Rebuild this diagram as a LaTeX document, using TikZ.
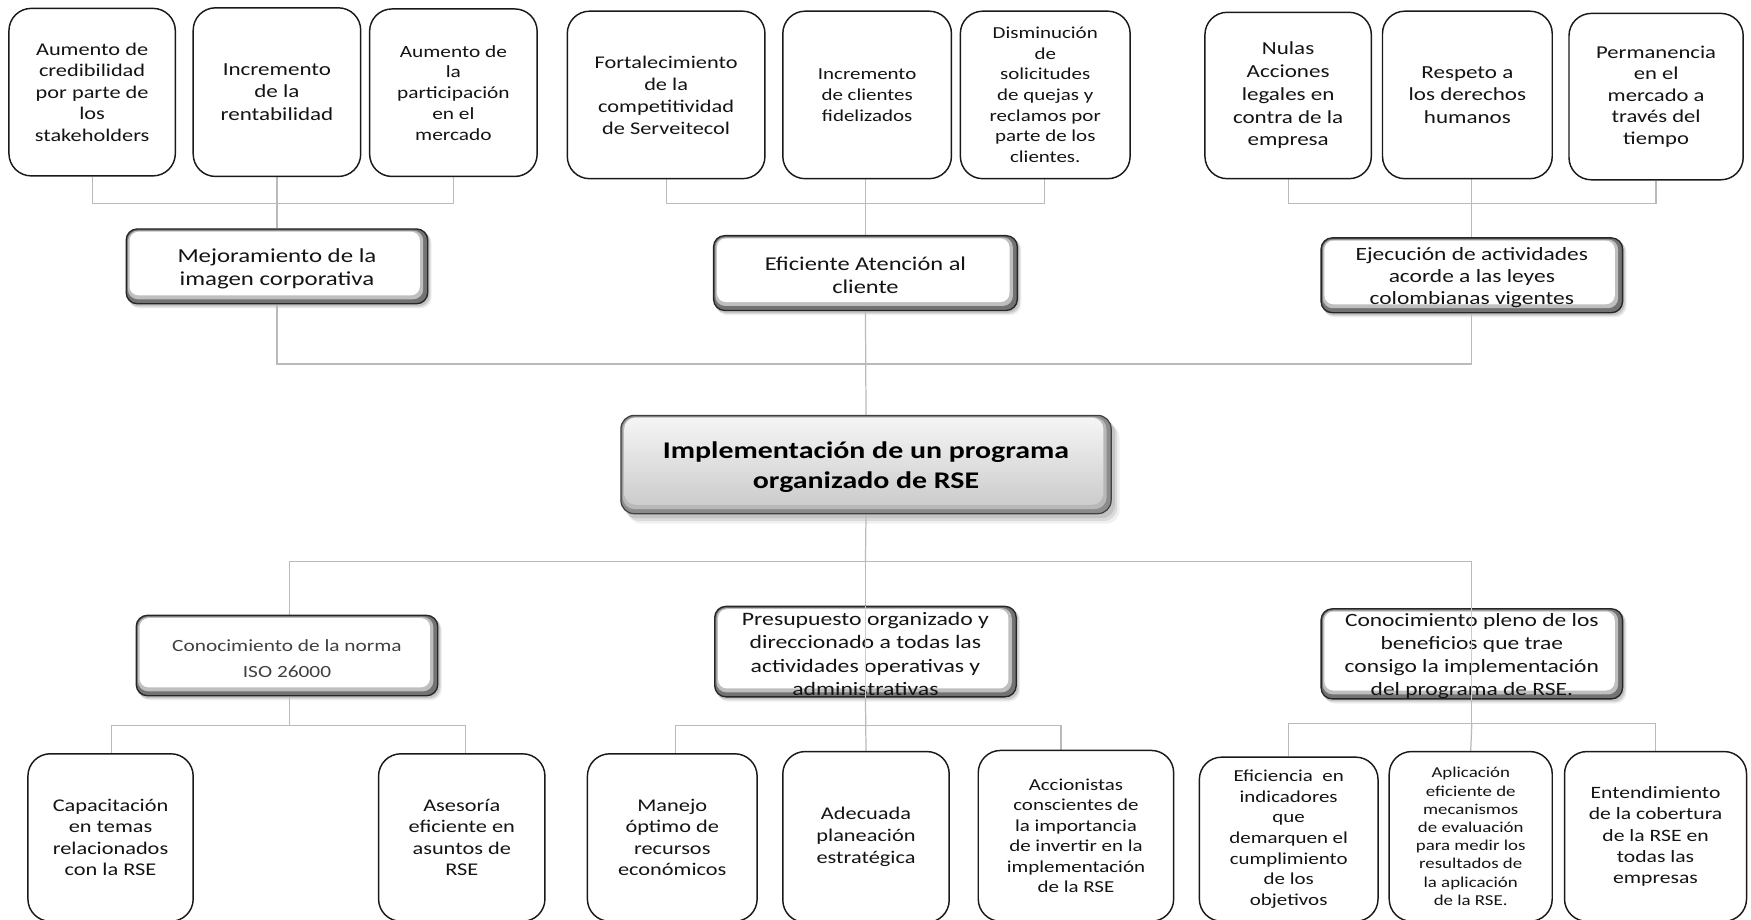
\documentclass[tikz,border=0pt]{standalone}
\usepackage{fontspec}
\setmainfont{Carlito}[FakeStretch=1.25]
\usetikzlibrary{backgrounds,calc}
\newcommand\fsz[2]{\fontsize{#1}{#2}\selectfont}
\newcommand\tp{\rule{0pt}{16pt}}
\newcommand\softshadow[3]{%
  \fill[black,opacity=.10,rounded corners=#3] ([xshift=#2*0.4pt,yshift=-#2*0.5pt]#1.north west) rectangle ([xshift=#2*0.4pt,yshift=-#2*0.5pt]#1.south east);
  \fill[black,opacity=.09,rounded corners=#3] ([xshift=#2*0.7pt,yshift=-#2*0.85pt]#1.north west) rectangle ([xshift=#2*0.7pt,yshift=-#2*0.85pt]#1.south east);
  \fill[black,opacity=.06,rounded corners=#3] ([xshift=#2*1pt,yshift=-#2*1.2pt]#1.north west) rectangle ([xshift=#2*1pt,yshift=-#2*1.2pt]#1.south east);}
\begin{document}
\begin{tikzpicture}[x=1pt,y=-1pt,
  conn/.style={draw=black!27, line width=1.1pt},
  tbox/.style={draw=black!90, line width=1.3pt, rounded corners=20pt, fill=white,
    align=center, inner sep=0pt, text=black!92},
  midbox/.style={draw=black!85, line width=1.2pt, rounded corners=10pt, fill=black!55,
    align=center, inner sep=0pt, text=black!92,
    path picture={
      \fill[black!25, rounded corners=9pt] ([xshift=1.5pt,yshift=-1.5pt]path picture bounding box.north west) rectangle ([xshift=-4pt,yshift=4pt]path picture bounding box.south east);
      \fill[white, rounded corners=8pt] ([xshift=3pt,yshift=-2.5pt]path picture bounding box.north west) rectangle ([xshift=-7pt,yshift=7.5pt]path picture bounding box.south east);}},
  cbox/.style={draw=black!75, line width=1.1pt, rounded corners=12pt, fill=black!45,
    align=center, inner sep=0pt, text=black,
    path picture={
      \fill[black!28, rounded corners=11pt] ([xshift=1.5pt,yshift=-1.5pt]path picture bounding box.north west) rectangle ([xshift=-4pt,yshift=4pt]path picture bounding box.south east);
      \shade[top color=black!4, bottom color=black!20, rounded corners=10pt] ([xshift=3pt,yshift=-2pt]path picture bounding box.north west) rectangle ([xshift=-7pt,yshift=8pt]path picture bounding box.south east);}}
]
\useasboundingbox (0,0) rectangle (1568,823);
\clip (0,0) rectangle (1568,823);

% ---------- top row ----------
\node[tbox, minimum width=149pt, minimum height=150pt, font=\fsz{16}{19.2}] (b1) at (82.5,82.5) {Aumento de\\credibilidad\\por parte de\\los\\stakeholders};
\node[tbox, minimum width=150pt, minimum height=151pt, font=\fsz{16.5}{20.5}] (b2) at (248,82.5) {Incremento\\de la\\rentabilidad};
\node[tbox, minimum width=150pt, minimum height=150pt, font=\fsz{15.3}{18.6}] (b3) at (406,83) {Aumento de\\la\\participación\\en el\\mercado};
\node[tbox, minimum width=177pt, minimum height=150pt, font=\fsz{16}{19.7}] (b4) at (596.5,85) {Fortalecimiento\\de la\\competitividad\\de Serveitecol};
\node[tbox, minimum width=151pt, minimum height=150pt, font=\fsz{15}{18.6}] (b5) at (776.5,85) {Incremento\\de clientes\\fidelizados};
\node[tbox, minimum width=152pt, minimum height=150pt, font=\fsz{15}{18.5}] (b6) at (936,85) {Disminución\\de\\solicitudes\\de quejas y\\reclamos por\\parte de los\\clientes.};
\node[tbox, minimum width=149pt, minimum height=149pt, font=\fsz{16.5}{20.4}] (b7) at (1153.5,85.5) {Nulas\\Acciones\\legales en\\contra de la\\empresa};
\node[tbox, minimum width=152pt, minimum height=150pt, font=\fsz{16.5}{20}] (b8) at (1314,85) {Respeto a\\los derechos\\humanos};
\node[tbox, minimum width=156pt, minimum height=149pt, font=\fsz{16.2}{19.3}] (b9) at (1483,86.5) {Permanencia\\en el\\mercado a\\través del\\tiempo};

% ---------- second row ----------
\node[midbox, minimum width=270pt, minimum height=67pt, font=\fsz{17.8}{20.5}] (m1) at (248,238.5) {\tp Mejoramiento de la\\imagen corporativa};
\node[midbox, minimum width=272pt, minimum height=67pt, font=\fsz{17.5}{21}] (m2) at (775,244.5) {\tp Eficiente Atención al\\cliente};
\node[midbox, minimum width=270pt, minimum height=67pt, font=\fsz{16.8}{20}] (m3) at (1318,246.5) {\tp Ejecución de actividades\\acorde a las leyes\\colombianas vigentes};

% ---------- centre ----------
\node[cbox, minimum width=439pt, minimum height=88pt, font=\fsz{21.4}{27}\bfseries] (c) at (775.5,416) {\rule{0pt}{19pt}Implementación de un programa\\organizado de RSE};

% ---------- lower middle row ----------
\node[midbox, minimum width=270pt, minimum height=72pt, font=\fsz{15.3}{23}, text=black!75] (l1) at (257,587) {\tp Conocimiento de la norma\\ISO 26000};
\node[midbox, minimum width=270pt, minimum height=81pt, font=\fsz{17}{20.8}] (l2) at (775,583.5) {\tp Presupuesto organizado y\\direccionado a todas las\\actividades operativas y\\administrativas};
\node[midbox, minimum width=270pt, minimum height=77pt, font=\fsz{16.8}{20.6}] (l3) at (1318,585.5) {\tp Conocimiento pleno de los\\beneficios que trae\\consigo la implementación\\del programa de RSE.};

% ---------- bottom row ----------
\node[tbox, minimum width=148pt, minimum height=150pt, font=\fsz{16}{19.3}] (d1) at (99,750) {Capacitación\\en temas\\relacionados\\con la RSE};
\node[tbox, minimum width=149pt, minimum height=150pt, font=\fsz{16}{19.3}] (d2) at (413.5,750) {Asesoría\\eficiente en\\asuntos de\\RSE};
\node[tbox, minimum width=152pt, minimum height=150pt, font=\fsz{16}{19.3}] (d3) at (602,750) {Manejo\\óptimo de\\recursos\\económicos};
\node[tbox, minimum width=149pt, minimum height=153pt, font=\fsz{16}{19.5}] (d4) at (775.5,749.5) {Adecuada\\planeación\\estratégica};
\node[tbox, minimum width=175pt, minimum height=153pt, font=\fsz{15}{18.4}] (d5) at (963.5,748.5) {Accionistas\\conscientes de\\la importancia\\de invertir en la\\implementación\\de la RSE};
\node[tbox, minimum width=160pt, minimum height=147pt, font=\fsz{15}{18.5}] (d6) at (1154,751.5) {Eficiencia\ \ en\\indicadores\\que\\demarquen el\\cumplimiento\\de los\\objetivos};
\node[tbox, minimum width=146pt, minimum height=152pt, font=\fsz{13.5}{16.3}] (d7) at (1317,749) {Aplicación\\eficiente de\\mecanismos\\de evaluación\\para medir los\\resultados de\\la aplicación\\de la RSE.};
\node[tbox, minimum width=163pt, minimum height=152pt, font=\fsz{15.5}{19}] (d8) at (1482.5,749) {Entendimiento\\de la cobertura\\de la RSE en\\todas las\\empresas};

% ---------- connectors & shadows (behind) ----------
\begin{pgfonlayer}{background}
  \softshadow{c}{7}{12pt}
  \softshadow{m1}{3}{10pt}
  \softshadow{m2}{3}{10pt}
  \softshadow{m3}{3}{10pt}
  \softshadow{l1}{3}{10pt}
  \softshadow{l2}{3}{10pt}
  \softshadow{l3}{3}{10pt}
  % top groups
  \draw[conn] (b1.south) |- (182,182) -| (b3.south);
  \draw[conn] (b2.south) -- (m1.north);
  \draw[conn] (b4.south -| 597,0) |- (775,182) -| (b6.south -| 935,0);
  \draw[conn] (b5.south -| m2.north) -- (m2.north);
  \draw[conn] (b7.south) |- (1300,182) -| (b9.south);
  \draw[conn] (b8.south -| m3.north) -- (m3.north);
  % second level bus
  \draw[conn] (m1.south) |- (775,326) -| (m3.south);
  \draw[conn] (m2.south) -- (c.north);
  % lower bus
  \draw[conn] (c.south) -- (775,503);
  \draw[conn] (l1.north -| 259,0) |- (775,503) -| (l3.north);
  \draw[conn] (775,503) -- (l2.north);
  % bottom groups
  \draw[conn] (l1.south -| 259,0) -- (259,650);
  \draw[conn] (d1.north -| 100,0) |- (259,650) -| (d2.north -| 417,0);
  \draw[conn] (l2.south) -- (d4.north);
  \draw[conn] (d3.north -| 605,0) |- (775,650) -| (d5.north -| 950,0);
  \draw[conn] (l3.south) -- (1318,648);
  \draw[conn] (d6.north) |- (1318,648) -| (d8.north);
  \draw[conn] (1318,648) -- (d7.north);
\end{pgfonlayer}
% lines seen through the two lower boxes
\draw[conn, draw=black!20] (l2.north) -- (l2.south);
\draw[conn, draw=black!20] (l3.north) -- (l3.south);
\end{tikzpicture}
\end{document}
